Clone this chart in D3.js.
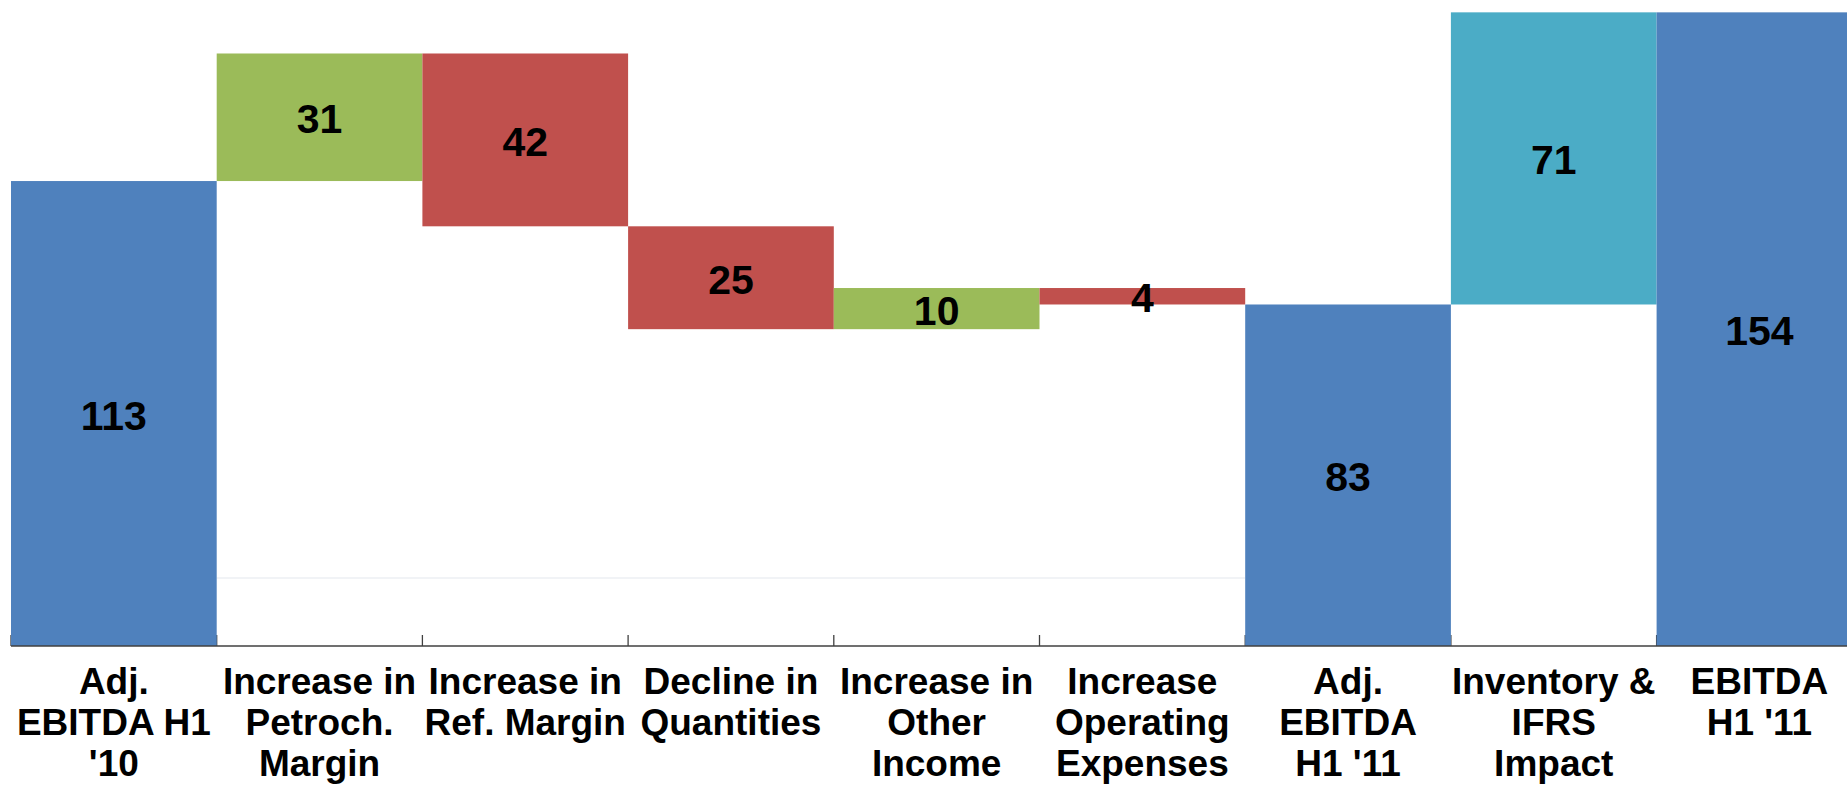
<!DOCTYPE html>
<html>
<head>
<meta charset="utf-8">
<script src="https://cdn.jsdelivr.net/npm/d3@7/dist/d3.min.js"></script>
<style>
  html, body { margin: 0; padding: 0; background: #ffffff; overflow: hidden; }
  svg { display: block; }
</style>
</head>
<body>
<svg id="chart" width="1847" height="787"></svg>
<script>
// ---- data ----
const categories = [
  "Adj. EBITDA H1 '10",
  "Increase in Petroch. Margin",
  "Increase in Ref. Margin",
  "Decline in Quantities",
  "Increase in Other Income",
  "Increase Operating Expenses",
  "Adj. EBITDA H1 '11",
  "Inventory & IFRS Impact",
  "EBITDA H1 '11"
];
const labelLines = [
  ["Adj.", "EBITDA H1", "'10"],
  ["Increase in", "Petroch.", "Margin"],
  ["Increase in", "Ref. Margin"],
  ["Decline in", "Quantities"],
  ["Increase in", "Other", "Income"],
  ["Increase", "Operating", "Expenses"],
  ["Adj.", "EBITDA", "H1 '11"],
  ["Inventory &", "IFRS", "Impact"],
  ["EBITDA", "H1 '11"]
];
const values = [113, 31, -42, -25, 10, -4, 83, 71, 154];
const kinds  = ["total", "delta", "delta", "delta", "delta", "delta", "total", "adjust", "total"];
const yMax = 157;
const faintGridValue = 16.5;

// ---- layout ----
const W = 1847, H = 787;
const plotLeft = 11, bandStep = 205.7;
const axisY = 646;
const svg = d3.select("#chart");

const x = d3.scaleBand()
  .domain(categories)
  .range([plotLeft, plotLeft + bandStep * categories.length])
  .padding(0);
const y = d3.scaleLinear().domain([0, yMax]).range([axisY, 0]);

// compute waterfall segments
let running = 0;
const bars = categories.map((c, i) => {
  const v = values[i];
  let lo, hi;
  if (kinds[i] === "total") {
    lo = 0; hi = v; running = v;
  } else {
    const start = running;
    running = start + v;
    lo = Math.min(start, running); hi = Math.max(start, running);
  }
  let color;
  if (kinds[i] === "total") color = "#4F81BD";
  else if (kinds[i] === "adjust") color = "#4BACC6";
  else color = v >= 0 ? "#9BBB59" : "#C0504D";
  return { cat: c, v, lo, hi, color };
});

// faint gridline
svg.append("line")
  .attr("x1", x(categories[1])).attr("x2", x(categories[6]))
  .attr("y1", y(faintGridValue)).attr("y2", y(faintGridValue))
  .attr("stroke", "#f1f3f6").attr("stroke-width", 2);

// tick marks at band boundaries (upward)
const boundaries = categories.map(c => x(c)).concat([x(categories[categories.length - 1]) + x.bandwidth()]);
svg.append("g").selectAll("line").data(boundaries).join("line")
  .attr("x1", d => d).attr("x2", d => d)
  .attr("y1", axisY).attr("y2", axisY - 11)
  .attr("stroke", "#404040").attr("stroke-width", 1.3);

// bars
svg.append("g").selectAll("rect").data(bars).join("rect")
  .attr("x", d => x(d.cat))
  .attr("width", x.bandwidth())
  .attr("y", d => y(d.hi))
  .attr("height", d => y(d.lo) - y(d.hi))
  .attr("fill", d => d.color);

// axis line
svg.append("line")
  .attr("x1", plotLeft).attr("x2", W)
  .attr("y1", axisY).attr("y2", axisY)
  .attr("stroke", "#404040").attr("stroke-width", 1.5);

// value labels
svg.append("g").selectAll("text").data(bars).join("text")
  .attr("x", d => x(d.cat) + x.bandwidth() / 2)
  .attr("y", d => (y(d.lo) + y(d.hi)) / 2 + 2)
  .attr("text-anchor", "middle")
  .attr("dominant-baseline", "central")
  .attr("font-family", "'Liberation Sans', Arial, sans-serif")
  .attr("font-weight", "bold")
  .attr("font-size", 41)
  .attr("fill", "#000")
  .text(d => Math.abs(d.v));

// category labels
const lab = svg.append("g").selectAll("text").data(categories).join("text")
  .attr("text-anchor", "middle")
  .attr("font-family", "'Liberation Sans', Arial, sans-serif")
  .attr("font-weight", "bold")
  .attr("font-size", 37)
  .attr("fill", "#000");
lab.each(function(c, i) {
  const t = d3.select(this);
  labelLines[i].forEach((line, j) => {
    t.append("tspan")
      .attr("x", x(c) + x.bandwidth() / 2)
      .attr("y", 694 + j * 41)
      .text(line);
  });
});
</script>
</body>
</html>
